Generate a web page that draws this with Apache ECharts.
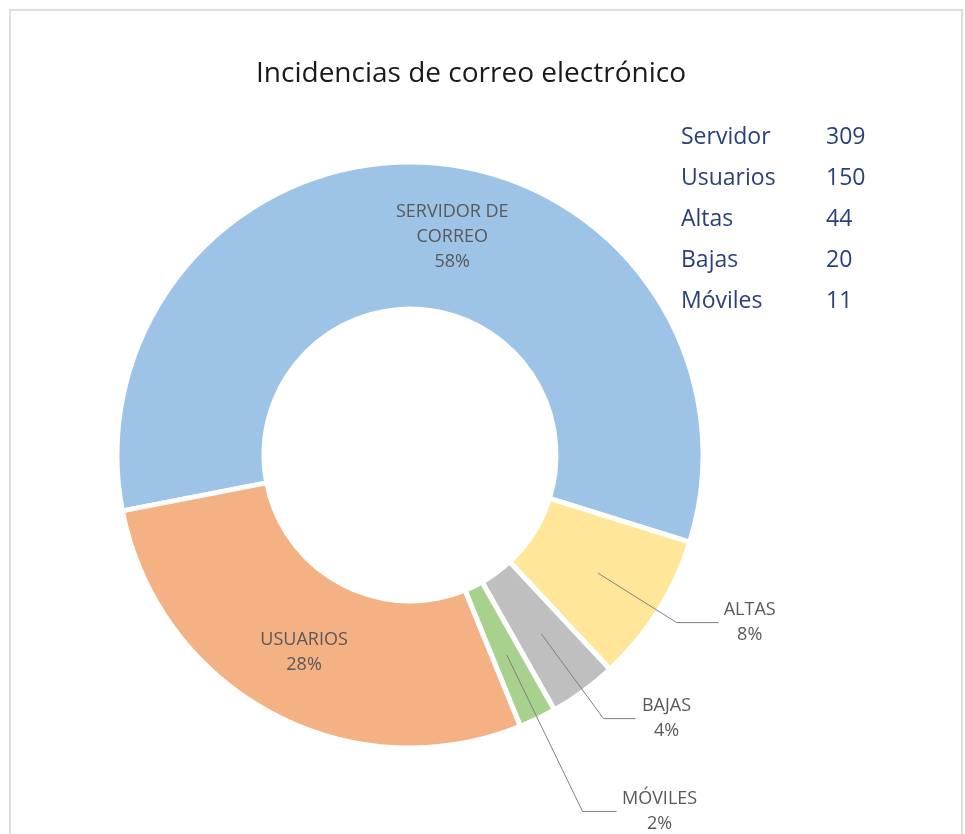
<!DOCTYPE html>
<html>
<head>
<meta charset="utf-8">
<script src="https://cdn.jsdelivr.net/npm/echarts@6/dist/echarts.min.js"></script>
<style>
  html, body { margin: 0; padding: 0; background: #fff; }
  #chart { width: 965px; height: 834px; }
</style>
</head>
<body>
<div id="chart"></div>
<script>
// legend / table order
var names = ['Servidor', 'Usuarios', 'Altas', 'Bajas', 'Móviles'];
var values = [309, 150, 44, 20, 11];
var sliceLabels = ['SERVIDOR DE\nCORREO', 'USUARIOS', 'ALTAS', 'BAJAS', 'MÓVILES'];
var colors = ['#9DC3E6', '#F4B183', '#FFE699', '#BFBFBF', '#A9D18E'];
// order the slices are drawn clockwise
var drawOrder = [0, 2, 3, 4, 1];

// label placement per slice (inside the ring, or outside with a leader line)
var labelOpts = [
    { inside: true, offset: [30, 4] },
    { inside: true, offset: [0, 2] },
    { inside: false, length: 93, length2: 42, boxWidth: 54 },
    { inside: false, length: 105, length2: 32, boxWidth: 54 },
    { inside: false, length: 174, length2: 34, boxWidth: 78 }
];

var labelFont = { fontFamily: 'Open Sans', fontSize: 18, lineHeight: 25, color: '#595959' };

function pctText(p) {
    return Math.round(p.percent) + '%';
}

// ring itself, with the inside labels
var ringData = drawOrder.map(function (i) {
    var o = labelOpts[i];
    return {
        name: names[i],
        value: values[i],
        itemStyle: { color: colors[i] },
        label: { show: o.inside, offset: o.offset }
    };
});

// transparent overlay reaching mid-ring, so the leader lines start inside the slices
var calloutData = drawOrder.map(function (i) {
    var o = labelOpts[i];
    var item = {
        name: names[i],
        value: values[i],
        label: { show: !o.inside },
        labelLine: { show: !o.inside }
    };
    if (!o.inside) {
        item.labelLine.length = o.length;
        item.labelLine.length2 = o.length2;
        item.label.rich = { c: Object.assign({ width: o.boxWidth, align: 'center' }, labelFont) };
    }
    return item;
});

var chart = echarts.init(document.getElementById('chart'));
chart.setOption({
    animation: false,
    title: {
        text: 'Incidencias de correo electrónico',
        left: 466,
        top: 55,
        textAlign: 'center',
        textStyle: { fontFamily: 'Open Sans', fontSize: 28, fontWeight: 'normal', color: '#1a1a1a' }
    },
    legend: {
        orient: 'vertical',
        left: 671,
        top: 121,
        icon: 'none',
        itemWidth: 0,
        itemGap: 18,
        selectedMode: false,
        data: names,
        formatter: function (name) {
            return '{n|' + name + '}{v|' + values[names.indexOf(name)] + '}';
        },
        textStyle: {
            rich: {
                n: { fontFamily: 'Open Sans', fontSize: 23, lineHeight: 24, color: '#2B3F7A', width: 145 },
                v: { fontFamily: 'Open Sans', fontSize: 23, lineHeight: 24, color: '#2B3F7A' }
            }
        }
    },
    graphic: [{
        type: 'rect',
        shape: { x: 10, y: 10, width: 952, height: 840 },
        style: { fill: 'none', stroke: '#dedede', lineWidth: 2 },
        silent: true
    }],
    series: [{
        type: 'pie',
        center: [410, 455],
        radius: [146, 293],
        startAngle: 191,
        clockwise: true,
        avoidLabelOverlap: false,
        itemStyle: { borderColor: '#fff', borderWidth: 5 },
        label: Object.assign({
            position: 'inside',
            align: 'center',
            formatter: function (p) {
                return sliceLabels[names.indexOf(p.name)] + '\n' + pctText(p);
            }
        }, labelFont),
        labelLine: { show: false },
        emphasis: { disabled: true },
        data: ringData
    }, {
        type: 'pie',
        z: 6,
        center: [410, 455],
        radius: [0, 222],
        startAngle: 191,
        clockwise: true,
        silent: true,
        avoidLabelOverlap: false,
        itemStyle: { color: 'rgba(0,0,0,0)', borderWidth: 0 },
        label: Object.assign({
            position: 'outside',
            distanceToLabelLine: 4,
            formatter: function (p) {
                return '{c|' + sliceLabels[names.indexOf(p.name)] + '}\n{c|' + pctText(p) + '}';
            }
        }, labelFont),
        labelLine: { lineStyle: { color: '#7F7F7F', width: 1 }, smooth: false },
        emphasis: { disabled: true },
        data: calloutData
    }]
});
</script>
</body>
</html>
